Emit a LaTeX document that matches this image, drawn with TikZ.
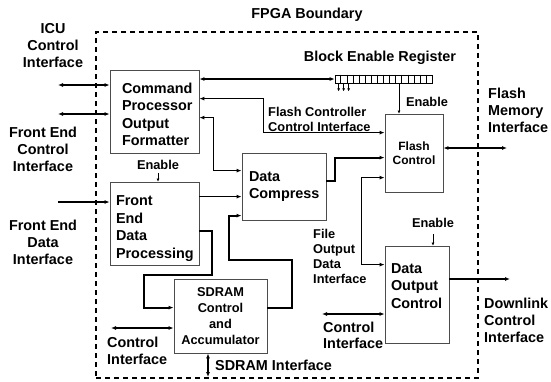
\documentclass[tikz,border=0pt]{standalone}
\usepackage{fontspec}
\setmainfont{Liberation Sans}
\usetikzlibrary{arrows.meta, calc}

\begin{document}
\begin{tikzpicture}[x=1pt, y=-1pt,
    box/.style={rectangle, draw=black!70, line width=0.8pt, inner sep=0pt, font=\fontsize{14.4}{17.5}\selectfont\bfseries},
    lbl/.style={inner sep=0pt, align=left, font=\fontsize{14.4}{17}\selectfont\bfseries},
    small/.style={inner sep=0pt, align=left, font=\fontsize{12.8}{15}\selectfont\bfseries},
    arrow/.style={-{Latex[length=5pt,width=4pt]}, line width=1.1pt},
    biarrow/.style={{Latex[length=5pt,width=4pt]}-{Latex[length=5pt,width=4pt]}, line width=1.1pt},
    bus/.style={arrow, line width=2pt},
    tiny/.style={-{Latex[length=3pt,width=3pt]}, line width=0.7pt}
]
    \useasboundingbox (0,0) rectangle (551,381);

    % FPGA boundary
    \node[draw, dash pattern=on 5pt off 4pt, line width=1.4pt, minimum width=382pt, minimum height=346pt, inner sep=0pt] (fpga) at (287,205) {};
    \node[lbl] (fpgalbl) at (307,15) {FPGA Boundary};

    % Blocks
    \node[box, minimum width=89pt, minimum height=83pt, text width=65pt, align=left] (cp) at (154.5,111.5) {\rule{0pt}{16.5pt}Command\\Processor\\Output\\Formatter};
    \node[box, minimum width=89pt, minimum height=83pt, text width=77pt, align=left] (fedp) at (154.5,223.5) {\rule{0pt}{20pt}Front\\End\\Data\\Processing};
    \node[box, minimum width=84pt, minimum height=67pt, text width=70pt, align=left] (dc) at (284,186.5) {Data\\Compress};
    \node[box, minimum width=93pt, minimum height=74pt, align=center, font=\fontsize{12.8}{16}\selectfont\bfseries] (sdram) at (220.5,316) {SDRAM\\Control\\and\\Accumulator};
    \node[box, minimum width=58pt, minimum height=78pt, align=center, font=\fontsize{12}{14}\selectfont\bfseries] (flash) at (414,153) {Flash\\Control};
    \node[box, minimum width=64pt, minimum height=97pt, text width=52pt, align=left] (doc) at (417,294.5) {Data\\Output\\Control\\\mbox{}};

    % Block enable register
    \node[draw, line width=0.7pt, minimum width=97pt, minimum height=8pt, inner sep=0pt] (reg) at (383.5,79) {};
    \foreach \i in {1,...,15}
        \draw[line width=0.7pt] ($(reg.north west)!\i/16!(reg.north east)$) -- ($(reg.south west)!\i/16!(reg.south east)$);
    \node[lbl] (reglbl) at (380,58) {Block Enable Register};

    % Outside labels
    \node[lbl, align=center] (icu) at (53,46) {ICU\\Control\\Interface};
    \node[lbl, align=center] (fectl) at (43,149) {Front End\\Control\\Interface};
    \node[lbl, align=center] (fedat) at (43,242) {Front End\\Data\\Interface};
    \node[lbl, anchor=west] (fmi) at (488,110.5) {Flash\\Memory\\Interface};
    \node[lbl, anchor=west] (dlci) at (484,320) {Downlink\\Control\\Interface};

    % Inside labels
    \node[small, anchor=west] (fcci) at (268,119.5) {Flash Controller\\Control Interface};
    \node[small] (enfl) at (427,102) {Enable};
    \node[small] (enfe) at (158,165) {Enable};
    \node[small] (endoc) at (433,223) {Enable};
    \node[small, anchor=west] (fodi) at (313,256) {File\\Output\\Data\\Interface};
    \node[lbl, anchor=west, font=\fontsize{14.4}{16}\selectfont\bfseries] (docci) at (323,335) {Control\\Interface};
    \node[lbl, anchor=west] (sdci) at (107,350.5) {Control\\Interface};
    \node[lbl, anchor=west] (sdif) at (215,365) {SDRAM Interface};

    % Free ends
    \coordinate (icuend) at (58,85);
    \coordinate (fectlend) at (58,114);
    \coordinate (fedatend) at (58,202);
    \coordinate (fmend) at (507,148);
    \coordinate (dlend) at (510,279);
    \coordinate (docctlend) at (322,314);
    \coordinate (sdctlend) at (111,328);
    \coordinate (sdifend) at (208,377);

    % Connectors
    \draw[biarrow] (icuend) -- (icuend -| cp.west);
    \draw[biarrow] (fectlend) -- (fectlend -| cp.west);
    \draw[arrow] (fedatend) -- (fedatend -| fedp.west);
    \draw[biarrow] (cp.east |- reg.west) -- (reg.west);
    \draw[biarrow] ([yshift=-29pt]cp.north east) -- ++(64,0) |- ([yshift=-19pt]flash.north west);
    \draw[biarrow] ([yshift=-48pt]cp.north east) -- ++(14,0) |- ([yshift=-18pt]dc.north west);
    \draw[arrow] ([yshift=-15pt]fedp.north east) -- ([yshift=-44pt]dc.north west);
    \draw[bus] ([yshift=-49pt]fedp.north east) -- ++(13,0) |- ++(-68,44) |- ([yshift=-29pt]sdram.north west);
    \draw[bus] ([yshift=-29pt]sdram.north east) -- ++(25,0) |- ++(-63,-48) |- ([yshift=-63pt]dc.north west);
    \draw[bus] ([yshift=-28pt]dc.north east) -- ++(9,0) |- ([yshift=-44pt]flash.north west);
    \draw[biarrow] ([yshift=-64pt]flash.north west) -- ++(-23,0) |- ([yshift=-19pt]doc.north west);
    \draw[biarrow] (flash.east |- fmend) -- (fmend);
    \draw[arrow] (doc.east |- dlend) -- (dlend);
    \draw[biarrow] (docctlend) -- (docctlend -| doc.west);
    \draw[biarrow] (sdctlend) -- (sdctlend -| sdram.west);
    \draw[biarrow] (sdifend |- sdram.south) -- (sdifend);

    % Enables
    \draw[tiny] ([xshift=15.5pt]reg.south) -- ([xshift=15.5pt]reg.south |- flash.north);
    \foreach \dx in {4,9,14}
        \draw[tiny] ([xshift=\dx pt]reg.south west) -- ++(0,8);
    \draw[tiny, shorten <=3pt] (enfe.south) -- (enfe.south |- fedp.north);
    \draw[tiny, shorten <=6pt] (endoc.south) -- (endoc.south |- doc.north);
\end{tikzpicture}
\end{document}
